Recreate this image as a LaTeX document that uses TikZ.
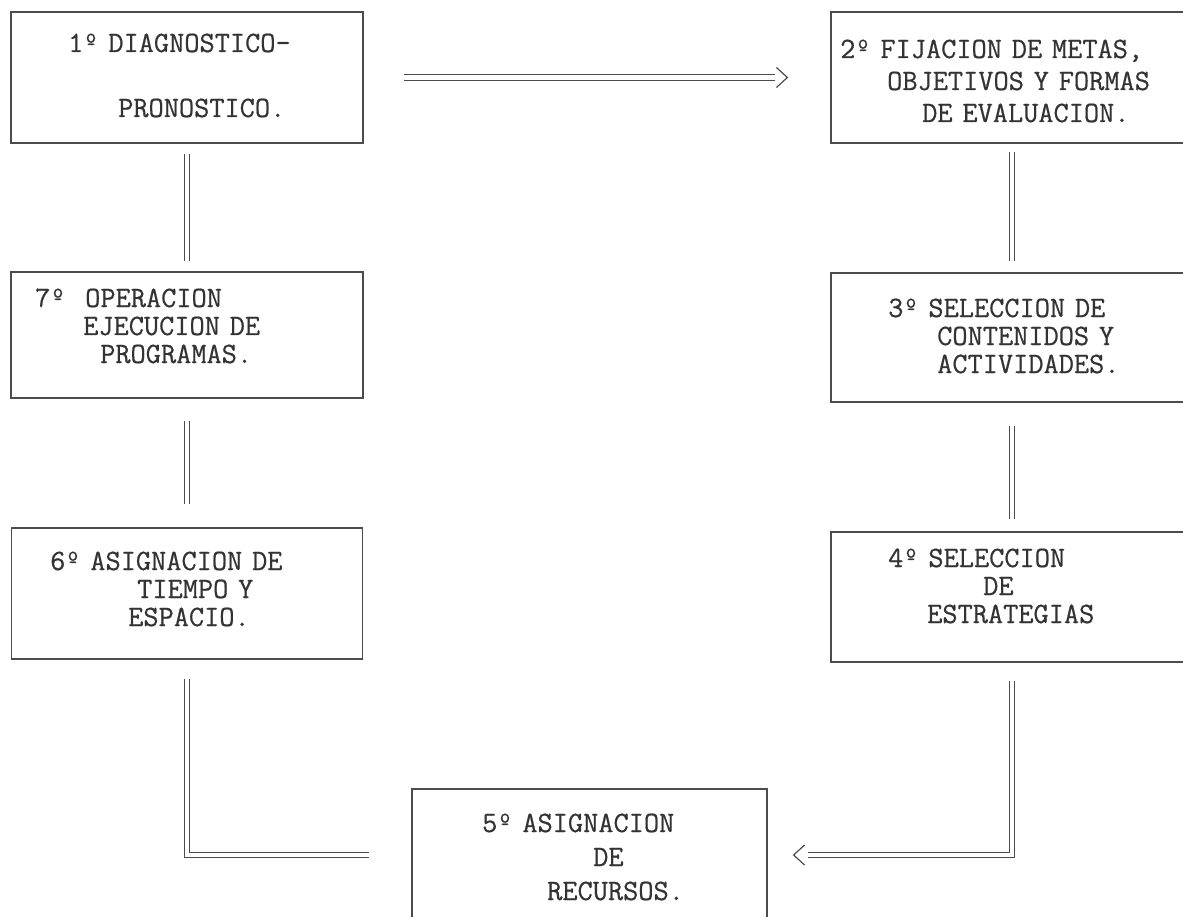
\documentclass[tikz,border=0pt]{standalone}
\usepackage{fontspec}
\newfontfamily\typer{Latin Modern Mono}[FakeBold=0.6]
\usepackage{tikz}
\usetikzlibrary{decorations.markings}

\tikzset{
  box/.style={draw=black!70,line width=1.2pt,rectangle,inner sep=0pt},
  txt/.style={anchor=base west,inner sep=0pt,text width=345pt,align=left,
    text=black!80,font=\typer\fontsize{29.5}{#1}\selectfont},
  link/.style={draw=black!70,line width=1.1pt,double,double distance=4.2pt},
  tipat/.style={decorate,decoration={markings,mark=at position -#1pt with
      {\draw[black!70,line width=1.2pt] (-11,-10)--(0,0)--(-11,10);}}}
}

\begin{document}
\begin{tikzpicture}[x=1pt,y=-1pt]
          %\draw[very thin,lightgray] (0,0) grid[step=100] (1183,917);
          \useasboundingbox (0,0) rectangle (1183,917);
          \clip (0,0) rectangle (1183,917);
          \node[box,minimum width=352pt,minimum height=131pt] (b1) at (187,77.5) {};
          \node[box,minimum width=362pt,minimum height=131pt] (b2) at (1012,77.5) {};
          \node[box,minimum width=362pt,minimum height=129pt] (b3) at (1012,337.5) {};
          \node[box,minimum width=362pt,minimum height=130pt] (b4) at (1012,597) {};
          \node[box,minimum width=355pt,minimum height=132pt] (b5) at (589.5,855) {};
          \node[box,minimum width=351pt,minimum height=131pt] (b6) at (187,593.5) {};
          \node[box,minimum width=352pt,minimum height=126pt] (b7) at (187,335) {};
          \node[txt=65] (t1) at (68,52) {1º DIAGNOSTICO-\\
            \hspace*{50pt}PRONOSTICO.};
          \node[txt=32] (t2) at (840,58) {2º FIJACION DE METAS,\\
            \hspace*{47pt}OBJETIVOS Y FORMAS\\
            \hspace*{82pt}DE EVALUACION.};
          \node[txt=28] (t3) at (888,317) {3º SELECCION DE\\
            \hspace*{49pt}CONTENIDOS Y\\
            \hspace*{49pt}ACTIVIDADES.};
          \node[txt=28] (t4) at (888,567) {4º SELECCION\\
            \hspace*{95pt}DE\\
            \hspace*{39pt}ESTRATEGIAS};
          \node[txt=34] (t5) at (482,832) {5º ASIGNACION\\
            \hspace*{111pt}DE\\
            \hspace*{65pt}RECURSOS.};
          \node[txt=28] (t6) at (50,570) {6º ASIGNACION DE\\
            \hspace*{87pt}TIEMPO Y\\
            \hspace*{78pt}ESPACIO.};
          \node[txt=28] (t7) at (35,307) {7º\ \ OPERACION\\
            \hspace*{48pt}EJECUCION DE\\
            \hspace*{65pt}PROGRAMAS.};
          \draw[link,shorten <=40pt,shorten >=55pt] (b1) -- (b2);
          \path[tipat=43] (b1) -- (b2);
          \draw[link,shorten <=8pt,shorten >=11pt] (b2) -- (b3);
          \draw[link,shorten <=23pt,shorten >=12pt] (b3) -- (b4);
          \draw[link,shorten <=18pt,shorten >=40pt] (b4) |- (b5);
          \path[tipat=26] (b4) |- (b5);
          \draw[link,shorten <=19pt,shorten >=42pt] (b6) |- (b5);
          \draw[link,shorten <=22pt,shorten >=23pt] (b7) -- (b6);
          \draw[link,shorten <=10pt,shorten >=10pt] (b1) -- (b7);
        \end{tikzpicture}
\end{document}
